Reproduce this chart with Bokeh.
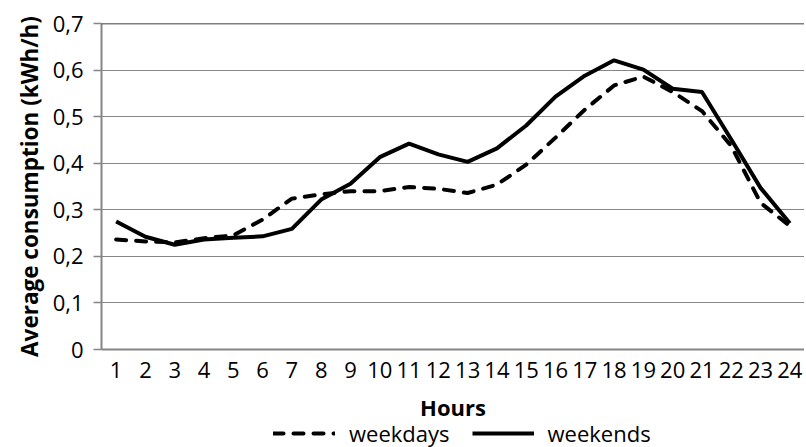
from bokeh.plotting import figure
from bokeh.layouts import column
from bokeh.models import Range1d, FixedTicker, CustomJSTickFormatter, Span, Legend, LegendItem
from bokeh.embed import file_html
from bokeh.resources import INLINE

hours = list(range(1, 25))
hour_labels = [str(h) for h in hours]
weekdays = [0.236, 0.232, 0.230, 0.239, 0.245, 0.279, 0.324, 0.333, 0.340, 0.340, 0.349, 0.345,
            0.336, 0.354, 0.397, 0.455, 0.515, 0.567, 0.586, 0.553, 0.512, 0.437, 0.315, 0.265]
weekends = [0.275, 0.242, 0.225, 0.236, 0.240, 0.243, 0.259, 0.322, 0.356, 0.413, 0.442, 0.419,
            0.403, 0.432, 0.481, 0.543, 0.588, 0.621, 0.601, 0.560, 0.553, 0.451, 0.347, 0.271]
y_ticks = [0, 0.1, 0.2, 0.3, 0.4, 0.5, 0.6, 0.7]
series_names = ["weekdays", "weekends"]

FONT = "Open Sans"
GRID = "#868686"
FS = "22px"

p = figure(frame_width=703, frame_height=326,
           output_backend="svg", toolbar_location=None,
           x_range=Range1d(0.5, 24.5), y_range=Range1d(0, 0.7),
           min_border_left=101, min_border_top=23, min_border_right=0, min_border_bottom=0)
p.outline_line_color = None
p.background_fill_color = "white"
p.border_fill_color = "white"

p.xgrid.grid_line_color = None
p.ygrid.grid_line_color = GRID
p.ygrid.grid_line_width = 1.2
p.ygrid.ticker = FixedTicker(ticks=y_ticks)

top = Span(location=0.7, dimension="width", line_color="black", line_width=1.5)
p.add_layout(top)

p.xaxis.ticker = FixedTicker(ticks=hours)
p.xaxis.major_label_overrides = {h: s for h, s in zip(hours, hour_labels)}
p.xaxis.major_tick_line_color = None
p.xaxis.major_tick_out = 0
p.xaxis.major_tick_in = 0
p.xaxis.minor_tick_line_color = None
p.xaxis.axis_line_color = GRID
p.xaxis.axis_line_width = 2
p.xaxis.major_label_text_font = FONT
p.xaxis.major_label_text_font_size = FS
p.xaxis.major_label_text_color = "black"
p.xaxis.major_label_standoff = 12
p.xaxis.axis_label = "Hours"
p.xaxis.axis_label_text_font = FONT
p.xaxis.axis_label_text_font_style = "bold"
p.xaxis.axis_label_text_font_size = FS
p.xaxis.axis_label_standoff = 11
p.xaxis.axis_label_text_color = "black"

p.yaxis.ticker = FixedTicker(ticks=y_ticks)
p.yaxis.formatter = CustomJSTickFormatter(code="return tick == 0 ? '0' : tick.toFixed(1).replace('.', ',');")
p.yaxis.major_tick_line_color = GRID
p.yaxis.major_tick_line_width = 1.5
p.yaxis.major_tick_out = 8
p.yaxis.major_tick_in = 0
p.yaxis.minor_tick_line_color = None
p.yaxis.axis_line_color = GRID
p.yaxis.axis_line_width = 2
p.yaxis.major_label_text_font = FONT
p.yaxis.major_label_text_font_size = FS
p.yaxis.major_label_text_color = "black"
p.yaxis.major_label_standoff = 10
p.yaxis.axis_label = "Average consumption (kWh/h)"
p.yaxis.axis_label_text_font = FONT
p.yaxis.axis_label_text_font_style = "bold"
p.yaxis.axis_label_text_font_size = "22.5px"
p.yaxis.axis_label_standoff = 5
p.yaxis.axis_label_text_color = "black"

DASH = dict(line_color="black", line_width=4, line_dash="10 10", line_cap="round")
SOLID = dict(line_color="black", line_width=4)
p.line(hours, weekdays, **DASH)
p.line(hours, weekends, **SOLID)

# legend strip: a second figure whose ranges keep its copies of the series out of view
q = figure(width=804, height=25, output_backend="svg", toolbar_location=None,
           x_range=Range1d(-10, -9), y_range=Range1d(-10, -9),
           min_border_left=0, min_border_right=0, min_border_top=0, min_border_bottom=0)
q.axis.visible = False
q.grid.visible = False
q.outline_line_color = None
q.border_fill_color = "white"
q.background_fill_color = "white"
l1 = q.line(hours, weekdays, **DASH)
l2 = q.line(hours, weekends, **SOLID)

legend = Legend(items=[LegendItem(label=series_names[0], renderers=[l1]),
                       LegendItem(label=series_names[1], renderers=[l2])],
                orientation="horizontal", location=(172, 1),
                label_text_font=FONT, label_text_font_size="22px", label_text_color="black",
                label_text_line_height=1.0,
                label_height=22, glyph_width=62, glyph_height=22, label_standoff=14, spacing=22,
                padding=0, margin=0, border_line_color=None, background_fill_alpha=0)
q.add_layout(legend, "center")

layout = column(p, q, spacing=0)
open("out.html", "w").write(file_html(layout, INLINE))
